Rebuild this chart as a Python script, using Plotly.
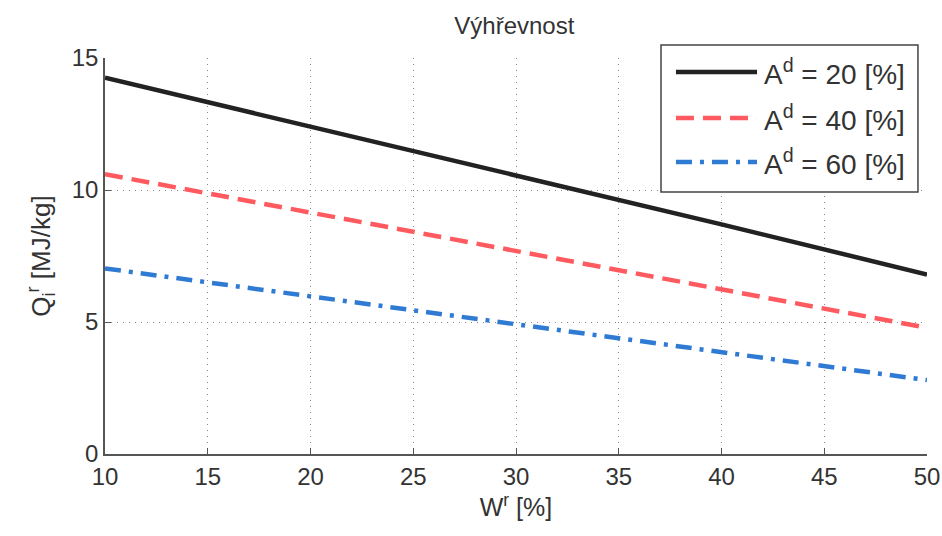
import plotly.graph_objects as go

x_vals = [10, 20, 30, 40, 50]
a20 = [14.25, 12.4, 10.55, 8.7, 6.8]
a40 = [10.6, 9.15, 7.7, 6.25, 4.78]
a60 = [7.03, 5.98, 4.92, 3.85, 2.8]
names = ["A<sup>d</sup> = 20 [%]", "A<sup>d</sup> = 40 [%]", "A<sup>d</sup> = 60 [%]"]
colors = ["#222222", "#ff5a5f", "#2f7bd4"]
dashes = ["solid", "18px,9px", "16px,8px,4px,8px"]
x_ticks = [10, 15, 20, 25, 30, 35, 40, 45, 50]
y_ticks = [0, 5, 10, 15]

font = "Liberation Sans"
txt = "#333333"

fig = go.Figure()
for yv, nm, c, d in zip([a20, a40, a60], names, colors, dashes):
    fig.add_trace(go.Scatter(x=x_vals, y=yv, mode="lines", name=nm,
                             line=dict(color=c, width=4.5, dash=d), showlegend=False))

# legend box drawn in paper coordinates (MATLAB-style long line samples)
fig.add_shape(type="rect", xref="paper", yref="paper", x0=0.6764, x1=0.989, y0=0.6616, y1=1.0328,
              line=dict(color="#444444", width=1.5), fillcolor="white", layer="above")
row_y = [0.9646, 0.8485, 0.7374]
for ry, nm, c, d in zip(row_y, names, colors, dashes):
    fig.add_shape(type="line", xref="paper", yref="paper", x0=0.6946, x1=0.7932, y0=ry, y1=ry,
                  line=dict(color=c, width=4.5, dash=d), layer="above")
    fig.add_annotation(xref="paper", yref="paper", x=0.7995, y=ry, text=nm, showarrow=False,
                       xanchor="left", yanchor="middle",
                       font=dict(family=font, size=28, color=txt))

fig.update_layout(
    width=942, height=536,
    margin=dict(l=105, r=15, t=58, b=82, autoexpand=False),
    paper_bgcolor="white", plot_bgcolor="white",
    font=dict(family=font, color=txt, size=24),
    title=dict(text="Výhřevnost", x=0.546, xanchor="center", y=0.952, yanchor="middle",
               font=dict(family=font, size=24, color=txt)),
    showlegend=False,
)
fig.update_xaxes(range=[10, 50], tickvals=x_ticks, ticks="inside", ticklen=6, automargin=False,
                 tickcolor="#555555", showline=True, linecolor="#555555", linewidth=1.5,
                 showgrid=True, gridcolor="#888888", griddash="1px,5px", gridwidth=1,
                 zeroline=False, tickfont=dict(family=font, size=24, color=txt),
                 title=dict(text="W<sup>r</sup> [%]", font=dict(family=font, size=25, color=txt), standoff=10))
fig.update_yaxes(range=[0, 15], tickvals=y_ticks, ticks="inside", ticklen=6, automargin=False,
                 tickcolor="#555555", showline=True, linecolor="#555555", linewidth=1.5,
                 showgrid=True, gridcolor="#888888", griddash="1px,5px", gridwidth=1,
                 zeroline=False, tickfont=dict(family=font, size=24, color=txt),
                 title=dict(text="Q<sub>i</sub><sup>r</sup> [MJ/kg]", font=dict(family=font, size=26, color=txt), standoff=14))

fig.write_html("out.html")
